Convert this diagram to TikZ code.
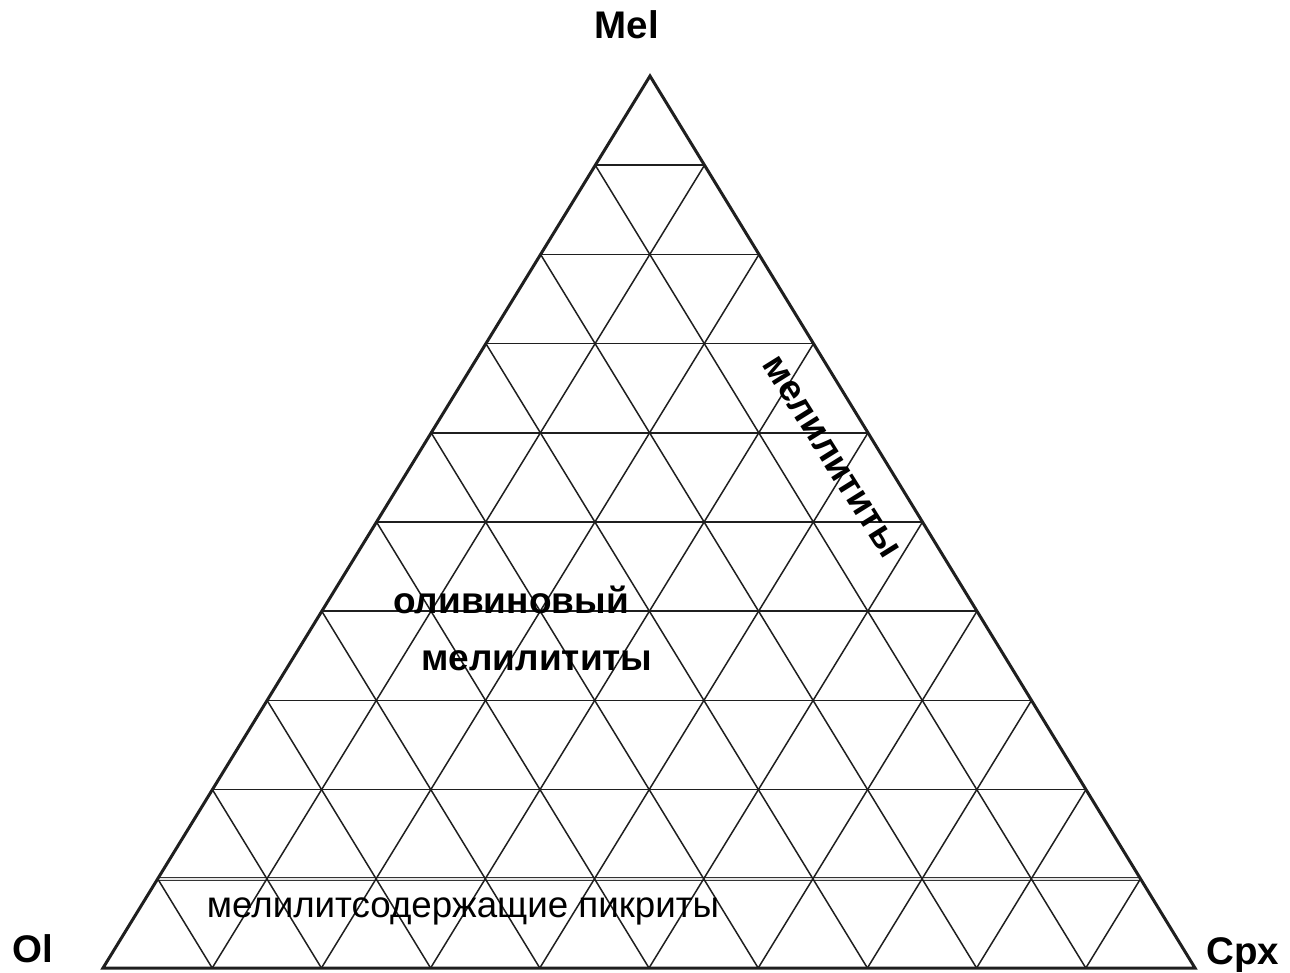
\documentclass[tikz,border=0pt]{standalone}
\usepackage{fontspec}
\setmainfont{Liberation Sans}
\usetikzlibrary{calc}
\begin{document}
\begin{tikzpicture}[x=1pt,y=-1pt,
  gridline/.style={line width=1.5pt,draw=black!88},
  edgeline/.style={line width=3pt,draw=black!88},
  dblline/.style={double=white!80!gray,double distance=1.6pt,line width=1.1pt,draw=black!80},
  corner/.style={font=\fontsize{38.5}{40}\selectfont\bfseries,inner sep=0pt,anchor=base},
  field/.style={font=\fontsize{36.7}{40}\selectfont,inner sep=0pt,anchor=base},
  fieldb/.style={font=\fontsize{37}{40}\selectfont\bfseries,inner sep=0pt,anchor=base}]
\useasboundingbox (0,0) rectangle (1290,973);
\coordinate (A) at (103,968);
\coordinate (B) at (1195,968);
\coordinate (C) at (650,76);
% horizontal lines
\foreach \k in {2,...,9}{
  \draw[gridline] ($(A)!\k/10!(C)$) -- ($(B)!\k/10!(C)$);
}
\draw[dblline] ($(A)!0.1!(C)$) -- ($(B)!0.1!(C)$);
% lines parallel to the side edges
\foreach \k in {1,...,9}{
  \draw[gridline] ($(A)!\k/10!(B)$) -- ($(B)!1-\k/10!(C)$);
  \draw[gridline] ($(A)!\k/10!(B)$) -- ($(A)!\k/10!(C)$);
}
\draw[edgeline] (A) -- (C) -- (B) -- cycle;
% labels
\node[corner] (mel) at (627,39) {Mel};
\node[corner] (ol) at (33,962) {Ol};
\node[corner] (cpx) at (1243,964) {Cpx};
\node[field] (pikr) at (463,917) {мелилитсодержащие пикриты};
\node[fieldb] (oliv) at (511,613) {оливиновый};
\node[fieldb] (melil) at (537,670) {мелилититы};
\node[fieldb,anchor=center,rotate=-58] (melr) at (831,457) {мелилититы};
\end{tikzpicture}
\end{document}
